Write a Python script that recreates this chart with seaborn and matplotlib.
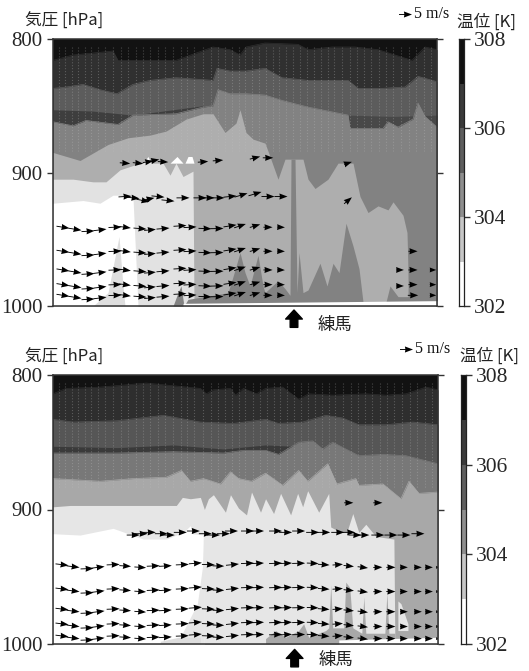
import numpy as np
import pandas as pd
import seaborn as sns
import matplotlib.pyplot as plt
from matplotlib.colors import ListedColormap

sns.set_style('white')
plt.rcParams['font.family'] = ['Noto Sans CJK JP', 'DejaVu Sans']

SERIF = ['Liberation Serif', 'DejaVu Serif']

# colourbar
cbar_vals = [[307.5], [306.5], [305.5], [304.5], [303.5], [302.5]]
cbar_cols = ['#ffffff', '#c6c6c6', '#8e8e8e', '#5e5e5e', '#3a3a3a', '#101010']
cbar_ticks = [308, 306, 304, 302]

# ---- upper panel: boundaries read as (time, hPa)
a1_t = [0, 20, 60, 65, 87, 123, 160, 177, 187, 193, 212, 245, 255, 279, 302, 325, 359, 372, 384]
a1_p = [816, 812, 809, 816, 816, 816, 806, 808, 812, 806, 803, 804, 808, 806, 806, 808, 816, 806, 808]
b1_t = [0, 13, 30, 47, 64, 80, 97, 123, 160, 164, 177, 193, 212, 229, 255, 295, 305, 329, 352, 365, 384]
b1_p = [837, 836, 834, 838, 841, 834, 831, 829, 831, 822, 824, 824, 822, 829, 831, 831, 837, 837, 836, 828, 832]
s1l_t = [0, 40, 80, 110, 150, 165]
s1l_p = [853, 854, 857, 854, 850, 850]
s1r_t = [295, 340, 384]
s1r_p = [857, 858, 857]
d1_t = [0, 20, 33, 65, 80, 123, 150, 160, 165, 177, 193, 212, 229, 255, 295, 297, 330, 335, 345, 360, 365, 372, 384]
d1_p = [862, 865, 861, 864, 857, 856, 851, 850, 838, 841, 841, 842, 846, 851, 857, 867, 867, 862, 866, 860, 848, 858, 866]
e1_t = [0, 27, 55, 75, 97, 113, 133, 150, 160, 172, 183, 187, 193, 200, 212, 215, 225, 232, 240, 250, 255, 262,
        275, 285, 300, 307, 315, 325, 335, 340, 350, 354, 356]
e1_p = [885, 891, 879, 874, 872, 869, 860, 856, 856, 870, 863, 853, 870, 875, 878, 884, 905, 890, 890, 890, 905, 912,
        905, 893, 893, 918, 930, 925, 928, 922, 932, 945, 1000]
f1_t = [0, 20, 40, 53, 67, 87, 110, 117, 123, 130, 140, 141]
f1_p = [905, 905, 907, 907, 898, 893, 893, 902, 893, 903, 899, 1000]
w1_t = [0, 30, 47, 60, 65, 80, 85, 86]
w1_p = [923, 921, 923, 917, 917, 919, 1000, 1000]
lp1_t = [40, 55, 66, 70, 72]
lp1_p = [1000, 990, 948, 985, 1000]
sp1_t = [120, 125, 128, 131, 135, 160, 175, 180, 187, 192, 197, 205, 210, 212, 225, 232, 237, 238, 242, 244, 246, 250,
         255, 267, 274, 280, 286, 293, 300, 306, 310, 333, 337, 345, 355, 356, 358, 359, 362, 364, 368, 371, 384]
sp1_p = [1000, 990, 985, 1000, 995, 992, 990, 978, 960, 975, 985, 962, 985, 990, 981, 987, 992, 890, 890, 990, 960, 990,
         988, 968, 985, 968, 975, 938, 955, 972, 997, 997, 985, 993, 993, 930, 930, 1000, 1000, 960, 960, 975, 960]
ws1_t = [130, 384]
ws1_p = [998, 996]
tips1 = [([90, 95, 98], [893, 888, 893]), ([117, 124, 130], [893, 888, 893]), ([132, 135, 139, 141], [893, 888, 888, 893])]

# arrows upper panel
cols1_t = [10, 22, 35, 47, 62, 72, 87, 97, 110, 127, 137, 152, 164, 177, 187, 202, 215, 228]
rows1_p = [941, 959, 973, 984, 992]
wob1 = [0, 1.5, 3, 2, 0, 0, 1, 2, 1, -1, 0, 1, 1, -1, -1, -1, 0, 0]
u1 = [5, 5, 5, 5, 5, 4.5, 5, 4.5, 5, 5, 5, 5, 5, 5, 4.5, 4, 3.5, 3]
v1 = [-0.8, -0.8, 0.3, 0.6, 0.2, -0.6, -0.4, 0.4, 0.4, 0.3, 0.3, -0.2, 0.1, 0.8, 1.5, 1.2, 0, -0.1]
top1_t = [72, 80, 90, 95, 105, 115, 130, 147, 155, 165, 177, 188, 202, 215, 228]
top1_p = [918, 919, 921, 920, 918, 921, 919, 919, 919, 919, 918, 917, 916, 918, 918]
top1_v = [0.3, -0.5, -1, 1, -0.5, -0.5, 0, 0, 0, 0, 0.5, 1.5, 1.5, 0, 0]
hi1_t = [72, 85, 95, 101, 110, 150, 165, 202, 215]
hi1_p = [893, 893, 892, 891, 892, 892, 891, 889, 889]
hi1_v = [-0.3, -0.4, 0.6, 0.8, -0.2, 0.3, 0.3, 1, 0]
ex1_t = [347, 360, 380, 360, 380, 347, 360, 380, 360, 295, 295]
ex1_p = [973, 959, 973, 973, 984, 985, 984, 992, 992, 893, 921]
ex1_u = [3, 3.5, 2.5, 3.5, 2.5, 3, 3.5, 2.5, 4, 3, 3]
ex1_v = [0, 0, 0, 0, 0, 0, 0, 0, 0, 1, 2.5]

# ---- lower panel
a2_t = [0, 13, 47, 93, 147, 153, 160, 177, 182, 190, 203, 212, 229, 245, 255, 279, 312, 332, 352, 372, 384]
a2_p = [814, 810, 809, 806, 810, 814, 811, 810, 815, 810, 814, 810, 809, 818, 814, 815, 814, 815, 814, 809, 811]
b2_t = [0, 20, 64, 110, 147, 180, 212, 225, 249, 272, 289, 305, 332, 359, 384]
b2_p = [833, 835, 834, 830, 835, 836, 833, 836, 835, 830, 832, 837, 837, 835, 837]
s2_t = [0, 64, 120, 170, 212, 240]
s2_p = [853, 854, 852, 855, 852, 853]
d2_t = [0, 64, 120, 170, 190, 212, 225, 245, 259, 269, 279, 305, 329, 352, 384]
d2_p = [858, 858, 857, 858, 856, 856, 859, 850, 849, 855, 850, 860, 859, 860, 866]
e2_t = [0, 47, 80, 113, 128, 137, 150, 167, 177, 185, 198, 212, 229, 245, 254, 274, 283, 302, 305, 329, 347, 355, 365, 384]
e2_p = [877, 879, 877, 876, 871, 879, 877, 881, 872, 877, 879, 873, 882, 871, 879, 866, 881, 877, 882, 881, 892, 879, 888, 887]
f2_t = [0, 17, 80, 123, 129, 137, 147, 151, 155, 160, 172, 177, 185, 193, 198, 207, 212, 220, 227, 237, 244, 249, 254,
        265, 275, 277, 287, 293, 299, 305, 312, 322, 340, 341]
f2_p = [898, 897, 897, 897, 891, 892, 891, 900, 892, 889, 902, 889, 899, 904, 887, 902, 892, 903, 888, 904, 888, 898, 886,
        902, 888, 913, 917, 917, 903, 917, 911, 920, 922, 1000]
w2_t = [0, 27, 60, 90, 113, 130, 137, 139, 150, 151]
w2_p = [918, 919, 914, 922, 922, 917, 912, 918, 919, 1000]
wg2_t = [127, 144, 149, 150, 151]
wg2_p = [995, 970, 943, 920, 920]
st2_t = [107, 125, 147]
st2_p = [998, 995, 995]
sp2_t = [212, 222, 232, 245, 250, 255, 272, 275, 277, 279, 290, 292, 296, 299, 308, 310, 312, 331, 333, 335, 341]
sp2_p = [996, 990, 995, 990, 985, 995, 990, 988, 956, 988, 988, 954, 958, 988, 992, 965, 992, 992, 962, 992, 992]
lt2_t = [344, 347, 354]
lt2_p = [968, 970, 985]
ws2_t = [285, 384]
ws2_p = [997, 995]

cols2_t = [9, 20, 34, 45, 60, 72, 87, 100, 112, 129, 142, 155, 165, 179, 194, 204, 222, 232, 245, 259, 270, 284, 295, 309, 324, 337, 350, 364, 375, 384]
rows2_p = [941, 959, 974, 985, 994]
wob2 = [0, 1.5, 3, 2, 0, 1, 2, 1, 1, 0, -1, 0, 1, 0, -1, -1, -1, -1, -1, -1, 0, 0, 1, 2, 2, 2, 2, 2, 2, 2]
u2 = [5, 5, 5, 5, 5, 4.5, 4.5, 5, 5, 5, 5, 5, 4.5, 5, 5, 5, 5, 5, 5, 4.5, 4.5, 4, 4, 4, 3.5, 3.5, 3, 3, 3, 1.5]
v2 = [-0.6, -0.6, 0.2, 0.6, 0.2, -0.3, -0.3, 0.2, 0.3, 0.2, 0.4, -0.2, -0.1, 0.5, 0.2, 0.2, 0.2, 0.2, 0.1, -0.2, -0.3, 0.3, -0.4, -0.5, 0.1, 0, 0, 0, 0, 0]
top2_t = [80, 88, 96, 108, 115, 127, 140, 152, 160, 170, 178, 194, 204, 222, 232, 245, 259, 270, 284, 295, 301, 309, 324, 337, 350, 364]
top2_p = [919, 918, 917, 918, 919, 917, 916, 918, 919, 918, 916, 916, 916, 916, 917, 916, 917, 917, 917, 917, 919, 919, 919, 919, 919, 918]
hi2_t = [295, 324]
hi2_p = [895, 895]

streaks_t = [6, 12, 19, 25, 32, 38, 45, 52, 60, 68, 75, 83, 90, 97, 105, 112, 120, 128, 134, 141, 150, 158, 165, 172,
             179, 186, 192, 199, 206, 213, 220, 226, 233, 240, 247, 254, 261, 268, 275, 281, 289, 297, 304, 311, 318,
             326, 333, 340, 348, 356, 363, 371, 378]
press_label = '\u6c17\u5727 [hPa]'
theta_label = '\u6e29\u4f4d [K]'
station = '\u7df4\u99ac'


def draw_field(ax, bands):
    for t, p, c in bands:
        ax.fill_between(t, p, 1000, color=c, lw=0)
        sns.lineplot(x=t, y=p, ax=ax, color=c, lw=0.5, estimator=None, sort=False, legend=False)


def arrows(ax, t, p, u, v, **kw):
    ax.quiver(t, p, u, v, angles='uv', scale_units='dots', scale=5 / 13, units='dots', width=0.9,
              headwidth=6.8, headlength=9, headaxislength=8.5, pivot='mid', color='black', zorder=5, **kw)


def finish(ax, cax, theta_x, theta_y, theta_fs, base_p, tip_p, text_p):
    ax.set_xlim(0, 384)
    ax.set_ylim(1000, 800)
    ax.set_xticks([])
    ax.set_yticks([800, 900, 1000])
    ax.set_xlabel('')
    ax.set_ylabel('')
    ax.tick_params(axis='y', left=True, right=True, length=4.5, width=1, color='#333333', pad=3, labelsize=15)
    for lab in ax.get_yticklabels():
        lab.set_family(SERIF)
    for s in ax.spines.values():
        s.set_color('#333333')
        s.set_linewidth(1.1)
        s.set_zorder(10)
    ax.vlines(streaks_t, 806, 884, color='#c4c4c4', lw=0.8, ls=':', alpha=0.3, zorder=2)
    # heatmap used as the stepped colourbar
    sns.heatmap(pd.DataFrame(cbar_vals), ax=cax, cbar=False, cmap=ListedColormap(cbar_cols), vmin=302, vmax=308,
                xticklabels=False, yticklabels=False)
    cax.set_xlabel('')
    cax.set_ylabel('')
    cax.yaxis.tick_right()
    cax.set_yticks([0, 2, 4, 6])
    cax.set_yticklabels(cbar_ticks, family=SERIF, fontsize=15.5, rotation=0)
    cax.tick_params(axis='y', right=True, left=False, length=4, width=1, color='#333333', pad=3)
    for s in cax.spines.values():
        s.set_visible(True)
        s.set_color('#222222')
        s.set_linewidth(0.9)
    ax.text(-28, 787, press_label, fontsize=12, color='#222222', va='center', ha='left')
    cax.text(theta_x, theta_y, theta_label, fontsize=theta_fs, color='#222222', va='center', ha='right', clip_on=False)
    arrows(ax, [352], [781], [5], [0], clip_on=False)
    ax.text(361, 781, '5 m/s', family=SERIF, fontsize=11.5, va='center', ha='left', color='#111111', clip_on=False)
    ax.annotate('', xy=(241, tip_p), xytext=(241, base_p), annotation_clip=False,
                arrowprops=dict(width=5.5, headwidth=12, headlength=6.5, color='black', shrink=0))
    ax.text(265, text_p, station, fontsize=12.5, color='#222222', va='center', ha='left', clip_on=False)


W, H = 529, 671
fig = plt.figure(figsize=(W / 100, H / 100), dpi=100)


def box(x0, x1, y0, y1):
    return [x0 / W, 1 - y1 / H, (x1 - x0) / W, (y1 - y0) / H]


ax1 = fig.add_axes(box(53, 437, 39, 306))
cax1 = fig.add_axes(box(458.5, 464, 39, 306))
ax2 = fig.add_axes(box(53, 438, 375, 644))
cax2 = fig.add_axes(box(460.5, 466, 375, 644))
ax1.set_facecolor('#121212')
ax2.set_facecolor('#121212')

# upper panel
draw_field(ax1, [(a1_t, a1_p, '#303030'), (b1_t, b1_p, '#5c5c5c')])
ax1.fill_between(s1l_t, s1l_p, 1000, color='#3e3e3e', lw=0)
ax1.fill_between(s1r_t, s1r_p, 1000, color='#484848', lw=0)
draw_field(ax1, [(d1_t, d1_p, '#828282')])
ax1.fill_between(e1_t, e1_p, 1000, color='#aeaeae', lw=0)
ax1.fill_between(f1_t, f1_p, 1000, color='#e2e2e2', lw=0)
for tt, pp in tips1:
    ax1.fill_between(tt, pp, 893, color='white', lw=0)
ax1.fill_between(w1_t, w1_p, 1000, color='white', lw=0)
ax1.fill_between(lp1_t, lp1_p, 1000, color='#dedede', lw=0)
ax1.fill_between(sp1_t, sp1_p, 1000, color='#828282', lw=0)
ax1.fill_between(ws1_t, ws1_p, 1000, color='white', lw=0)
for row in rows1_p:
    arrows(ax1, cols1_t, np.array(wob1) + row, u1, v1)
arrows(ax1, top1_t, top1_p, [5] * len(top1_t), top1_v)
arrows(ax1, hi1_t, hi1_p, [4] * len(hi1_t), hi1_v)
arrows(ax1, ex1_t, ex1_p, ex1_u, ex1_v)

# lower panel
draw_field(ax2, [(a2_t, a2_p, '#2e2e2e'), (b2_t, b2_p, '#565656')])
ax2.fill_between(s2_t, s2_p, 1000, color='#3a3a3a', lw=0)
draw_field(ax2, [(d2_t, d2_p, '#787878'), (e2_t, e2_p, '#a8a8a8')])
ax2.fill_between(f2_t, f2_p, 1000, color='#e6e6e6', lw=0)
ax2.fill_between(w2_t, w2_p, 1000, color='white', lw=0)
ax2.fill_between(wg2_t, wg2_p, 1000, color='#e6e6e6', lw=0)
ax2.fill_between(st2_t, st2_p, 1000, color='#dddddd', lw=0)
ax2.fill_between(sp2_t, sp2_p, 1000, color='#a8a8a8', lw=0)
ax2.fill_between(lt2_t, lt2_p, 990, color='#e6e6e6', lw=0)
ax2.fill_between(ws2_t, ws2_p, 1000, color='white', lw=0)
for row in rows2_p:
    arrows(ax2, cols2_t, np.array(wob2) + row, u2, v2)
arrows(ax2, top2_t, top2_p, [5] * len(top2_t), [0] * len(top2_t))
arrows(ax2, hi2_t, hi2_p, [3.5, 3.5], [0, 0])

finish(ax1, cax1, 10.5, -0.38, 12, 1016, 1003, 1014)
finish(ax2, cax2, 10.7, -0.42, 12, 1017, 1004, 1012)

fig.savefig('out.png', dpi=100)
